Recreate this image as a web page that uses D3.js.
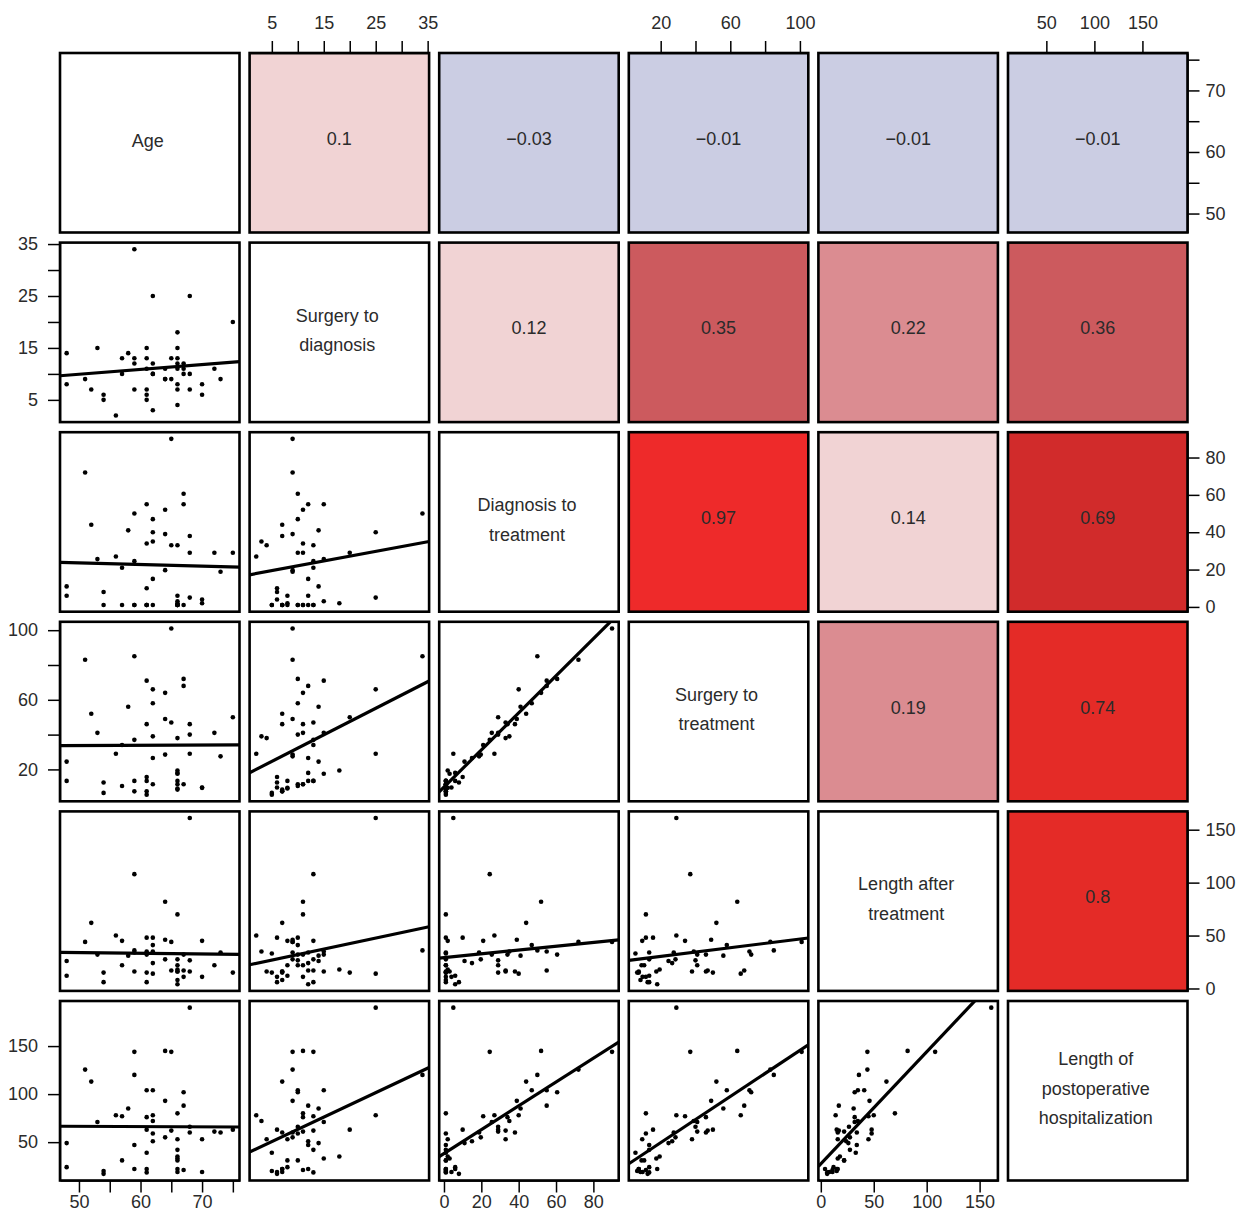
<!DOCTYPE html>
<html>
<head>
<meta charset="utf-8">
<script src="https://cdn.jsdelivr.net/npm/d3@7"></script>
<style>
  body { margin: 0; background: #fff; }
  svg { display: block; font-family: "Liberation Sans", Arial, Helvetica, sans-serif; }
</style>
</head>
<body>
<svg id="chart" width="1246" height="1211"></svg>
<script>
// One entry per patient, same order in every array.
const patientAge = [48, 48, 51, 52, 53, 54, 54, 56, 57, 57, 58, 59, 59, 59, 59,
  61, 61, 61, 61, 61, 61, 62, 62, 62, 62, 62, 64, 64, 64, 65, 65,
  66, 66, 66, 66, 66, 66, 66, 66, 67, 67, 67, 68, 68, 68, 70, 70, 72, 73, 75];
const surgeryToDiagnosis = [14, 8, 9, 7, 15, 6, 5, 2, 13, 10, 14, 34, 13, 12, 7,
  15, 11, 6, 5, 13, 7, 25, 10, 3, 12, 10, 11, 9, 9, 9, 13,
  4, 11, 18, 15, 13, 7, 12, 8, 10, 12, 11, 25, 7, 10, 8, 6, 11, 9, 20];
const diagnosisToTreatment = [11, 6, 72, 44, 25.6, 8, 1, 27, 21, 1, 41, 50, 24.5, 1, 1,
  55, 34, 10, 1, 1, 1, 40, 47, 35, 15, 1, 52, 39, 19.7, 90, 33,
  33, 1, 2, 3, 1, 1, 6, 1, 60.6, 55, 1, 5, 38, 29, 2, 4, 29, 18.8, 29];
const surgeryToTreatment = [24.5, 13.4, 83, 52, 41, 12.5, 6.5, 29, 34, 10.5, 56, 85, 37, 13.4, 7.4,
  71, 46, 15.6, 5.5, 13.4, 7.4, 66, 58, 39, 26.6, 11.5, 64, 49, 28.5, 101, 47,
  38, 11.5, 19.4, 17.5, 13.4, 8.4, 18, 9, 72, 68, 11.5, 29, 46, 40, 9.4, 9.6, 41, 27.5, 50];
const lengthAfterTreatment = [26, 12, 44, 62, 32, 6, 15, 50, 45, 22, 31, 36, 108, 34, 16,
  35, 32, 48, 33, 6, 15, 14, 41, 35, 24, 48, 82, 46, 27.5, 44, 17,
  16, 70, 18, 16, 27.5, 8, 4, 22, 32, 17, 11, 161, 16, 26.6, 45, 11, 22, 34, 15];
const postoperativeStay = [49, 24, 125.5, 113, 71, 17, 20, 78, 77, 31, 85, 120, 144, 47, 22,
  104, 76, 63, 39, 18.5, 22, 78, 104, 72, 51, 59, 145, 93, 55, 144, 62,
  53, 80, 35, 33, 42, 19, 22, 31, 102, 88, 21, 190, 60, 66, 53, 19, 61, 60, 63];

const variableLabels = [
  ["Age"],
  ["Surgery to", "diagnosis"],
  ["Diagnosis to", "treatment"],
  ["Surgery to", "treatment"],
  ["Length after", "treatment"],
  ["Length of", "postoperative", "hospitalization"]
];

// Pearson coefficients printed in the upper triangle: [row, column, r]
const correlations = [
  [0, 1, 0.1], [0, 2, -0.03], [0, 3, -0.01], [0, 4, -0.01], [0, 5, -0.01],
  [1, 2, 0.12], [1, 3, 0.35], [1, 4, 0.22], [1, 5, 0.36],
  [2, 3, 0.97], [2, 4, 0.14], [2, 5, 0.69],
  [3, 4, 0.19], [3, 5, 0.74],
  [4, 5, 0.8]
];

// Axis ticks per variable and the subset that carries a label
const axisTicks = [
  [50, 55, 60, 65, 70, 75],
  [5, 10, 15, 20, 25, 30, 35],
  [0, 20, 40, 60, 80],
  [20, 40, 60, 80, 100],
  [0, 50, 100, 150],
  [50, 100, 150]
];
const axisTickLabels = [
  [50, 60, 70],
  [5, 15, 25, 35],
  [0, 20, 40, 60, 80],
  [20, 60, 100],
  [0, 50, 100, 150],
  [50, 100, 150]
];

const columns = [patientAge, surgeryToDiagnosis, diagnosisToTreatment,
                 surgeryToTreatment, lengthAfterTreatment, postoperativeStay];
const n = columns.length;

// Layout
const originX = 60, originY = 53, pitch = 189.6, cell = 179.5;
const cellX = j => originX + j * pitch;
const cellY = i => originY + i * pitch;

// Colour bands for the coefficient tiles
const tileColor = d3.scaleThreshold()
  .domain([0, 0.15, 0.3, 0.5, 0.7, 0.9])
  .range(["#cbcde3", "#f1d3d4", "#db8c91", "#cc5a5e", "#d12b2b", "#e42b27", "#ee2a2a"]);

const svg = d3.select("#chart");

// Domain of each variable: data range widened by 4% on both sides
const domains = columns.map(col => {
  const [lo, hi] = d3.extent(col);
  const pad = (hi - lo) * 0.04;
  return [lo - pad, hi + pad];
});
const xScales = domains.map((dom, j) => d3.scaleLinear().domain(dom).range([cellX(j), cellX(j) + cell]));
const yScales = domains.map((dom, i) => d3.scaleLinear().domain(dom).range([cellY(i) + cell, cellY(i)]));

const defs = svg.append("defs");
const fmt = v => String(v).replace("-", "\u2212");

for (let i = 0; i < n; i++) {
  for (let j = 0; j < n; j++) {
    const g = svg.append("g");
    const x0 = cellX(j), y0 = cellY(i);

    if (i < j) {
      const entry = correlations.find(c => c[0] === i && c[1] === j);
      const r = entry[2];
      g.append("rect")
        .attr("x", x0).attr("y", y0).attr("width", cell).attr("height", cell)
        .attr("fill", tileColor(r));
      g.append("text")
        .attr("x", x0 + cell / 2).attr("y", y0 + cell / 2 - 4)
        .attr("text-anchor", "middle").attr("dominant-baseline", "central")
        .attr("font-size", 18).attr("fill", "#2b2b2b")
        .text(fmt(r));
    } else if (i === j) {
      const lines = variableLabels[i];
      const lh = 29.5;
      g.selectAll("text").data(lines).join("text")
        .attr("x", x0 + cell / 2 - 2)
        .attr("y", (d, k) => y0 + cell / 2 - 2 + (k - (lines.length - 1) / 2) * lh)
        .attr("text-anchor", "middle").attr("dominant-baseline", "central")
        .attr("font-size", 18).attr("fill", "#2b2b2b")
        .text(d => d);
    } else {
      const xs = xScales[j], ys = yScales[i];
      const xv = columns[j], yv = columns[i];
      const clipId = `clip-${i}-${j}`;
      defs.append("clipPath").attr("id", clipId)
        .append("rect").attr("x", x0).attr("y", y0).attr("width", cell).attr("height", cell);

      const pts = xv.map((v, k) => [v, yv[k]]);
      g.append("g").selectAll("circle").data(pts).join("circle")
        .attr("cx", d => xs(d[0])).attr("cy", d => ys(d[1]))
        .attr("r", 2.3).attr("fill", "#000");

      // least-squares fit of row variable on column variable
      const mx = d3.mean(xv), my = d3.mean(yv);
      const sxy = d3.sum(pts, d => (d[0] - mx) * (d[1] - my));
      const sxx = d3.sum(xv, v => (v - mx) ** 2);
      const slope = sxy / sxx, icpt = my - slope * mx;
      const [dx0, dx1] = xs.domain();
      g.append("line")
        .attr("clip-path", `url(#${clipId})`)
        .attr("x1", xs(dx0)).attr("y1", ys(icpt + slope * dx0))
        .attr("x2", xs(dx1)).attr("y2", ys(icpt + slope * dx1))
        .attr("stroke", "#000").attr("stroke-width", 3.2);
    }

    g.append("rect")
      .attr("x", x0).attr("y", y0).attr("width", cell).attr("height", cell)
      .attr("fill", "none").attr("stroke", "#000").attr("stroke-width", 2.6);
  }
}

// Axes alternate around the matrix
function styleAxis(sel) {
  sel.selectAll("line").attr("stroke", "#000").attr("stroke-width", 1.5);
  sel.select(".domain").attr("stroke", "#000").attr("stroke-width", 1.5);
  sel.selectAll("text").attr("font-size", 18).attr("fill", "#2b2b2b")
    .attr("font-family", "\"Liberation Sans\", Arial, Helvetica, sans-serif");
}
const labelFmt = k => (v => axisTickLabels[k].includes(v) ? String(v) : "");

for (let k = 0; k < n; k++) {
  if (k % 2 === 1) {
    svg.append("g").attr("transform", `translate(0,${cellY(0)})`)
      .call(d3.axisTop(xScales[k]).tickValues(axisTicks[k]).tickFormat(labelFmt(k))
        .tickSize(12).tickSizeOuter(0).tickPadding(12))
      .call(styleAxis);
    svg.append("g").attr("transform", `translate(${cellX(0)},0)`)
      .call(d3.axisLeft(yScales[k]).tickValues(axisTicks[k]).tickFormat(labelFmt(k))
        .tickSize(12).tickSizeOuter(0).tickPadding(10))
      .call(styleAxis);
  } else {
    svg.append("g").attr("transform", `translate(0,${cellY(n - 1) + cell})`)
      .call(d3.axisBottom(xScales[k]).tickValues(axisTicks[k]).tickFormat(labelFmt(k))
        .tickSize(12).tickSizeOuter(0).tickPadding(3))
      .call(styleAxis);
    svg.append("g").attr("transform", `translate(${cellX(n - 1) + cell},0)`)
      .call(d3.axisRight(yScales[k]).tickValues(axisTicks[k]).tickFormat(labelFmt(k))
        .tickSize(12).tickSizeOuter(0).tickPadding(6))
      .call(styleAxis);
  }
}
</script>
</body>
</html>
